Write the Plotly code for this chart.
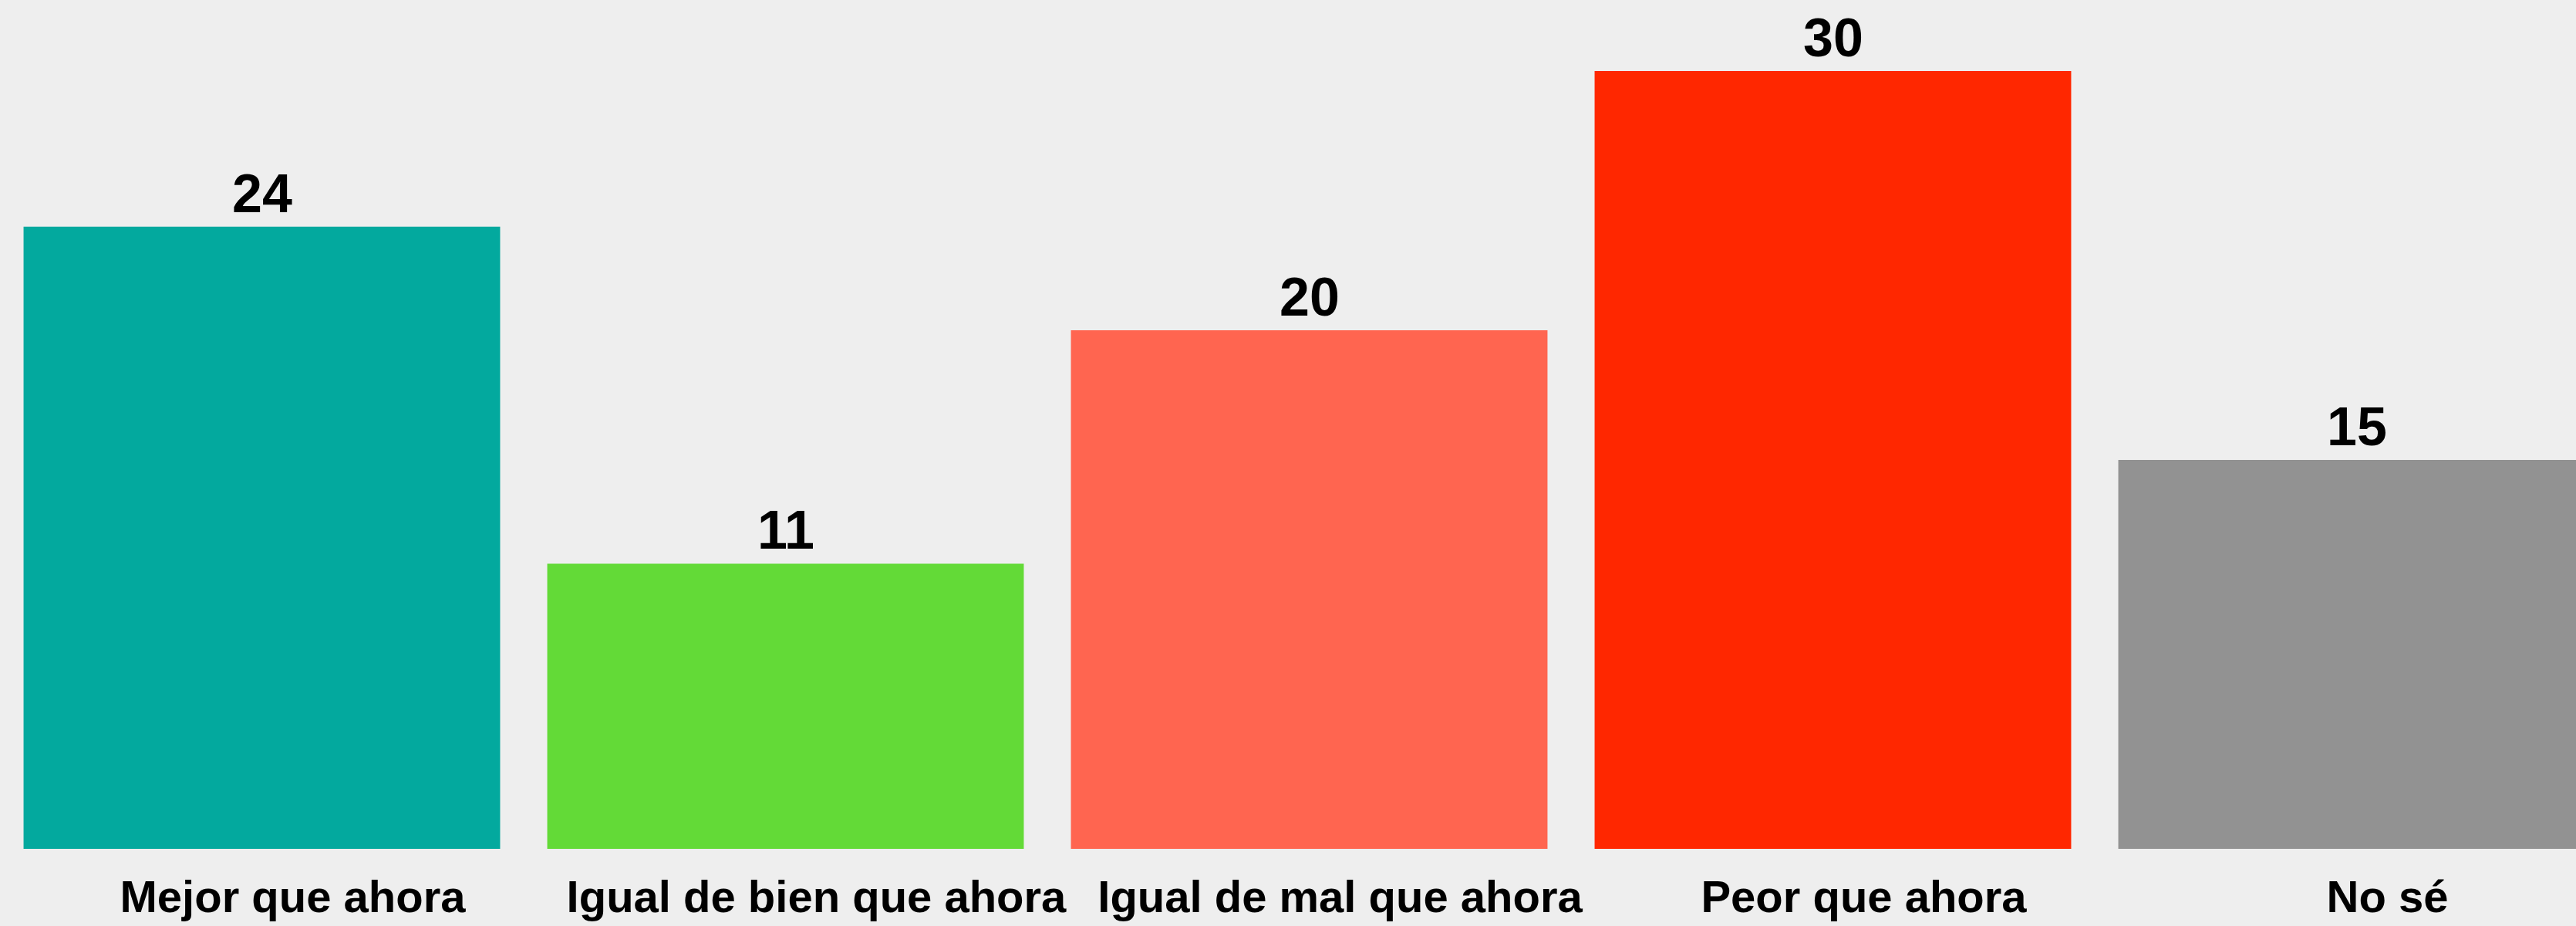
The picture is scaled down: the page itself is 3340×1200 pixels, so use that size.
import plotly.graph_objects as go

categories = ["Mejor que ahora", "Igual de bien que ahora", "Igual de mal que ahora", "Peor que ahora", "No sé"]
values = [24, 11, 20, 30, 15]
colors = ["#03A99E", "#63DA37", "#FF6550", "#FF2700", "#929292"]

fig = go.Figure()
fig.add_trace(go.Bar(
    x=list(range(len(categories))),
    y=values,
    marker=dict(color=colors, line=dict(width=0)),
    hoverinfo="skip",
))

for i, v in enumerate(values):
    fig.add_annotation(
        x=i, y=v, xref="x", yref="y",
        text=str(v), showarrow=False,
        yanchor="bottom", yshift=2,
        font=dict(family="Liberation Sans, Arial, sans-serif", size=70, color="#000000", weight="bold"),
    )

fig.update_layout(
    width=3340, height=1200,
    margin=dict(l=0, r=0, t=0, b=100),
    paper_bgcolor="#EEEEEE",
    plot_bgcolor="#EEEEEE",
    bargap=0.09,
    showlegend=False,
    xaxis=dict(
        range=[-0.5, 4.419],
        tickmode="array",
        tickvals=list(range(len(categories))),
        ticktext=categories,
        showgrid=False, zeroline=False, showline=False, ticks="",
        ticklabelshift=40,
        ticklabelstandoff=23,
        tickfont=dict(family="Liberation Sans, Arial, sans-serif", size=58, color="#000000", weight="bold"),
    ),
    yaxis=dict(
        range=[0, 32.74],
        showgrid=False, zeroline=False, showline=False,
        showticklabels=False, ticks="",
    ),
)

fig.write_html(
    "out.html",
    config={"displayModeBar": False},
    post_script="document.body.style.margin='0';document.body.style.overflow='hidden';document.body.style.background='#EEEEEE';",
)
